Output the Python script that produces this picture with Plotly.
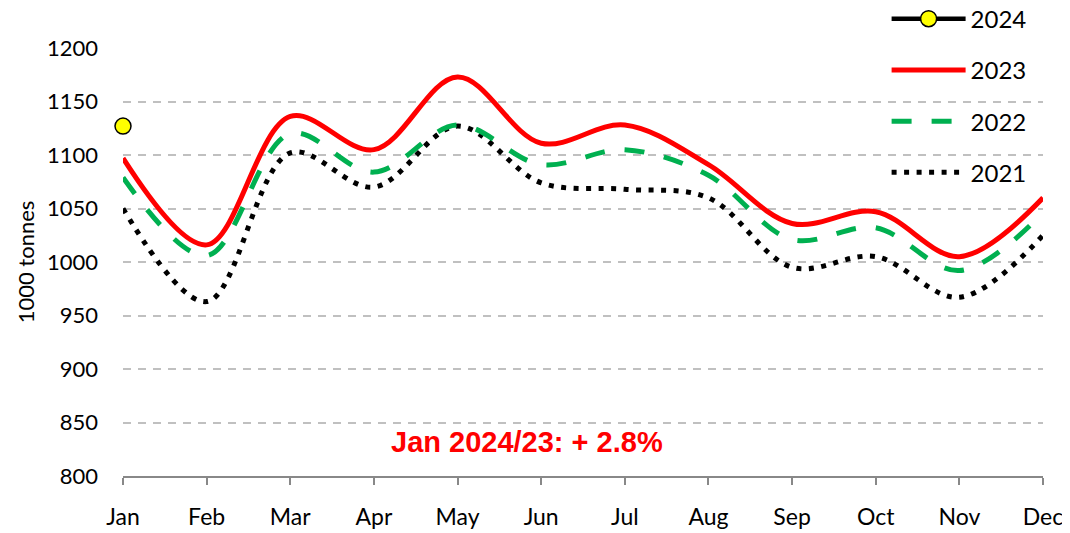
import plotly.graph_objects as go

months = ["Jan", "Feb", "Mar", "Apr", "May", "Jun", "Jul", "Aug", "Sep", "Oct", "Nov", "Dec"]
y2021 = [1050, 963, 1102, 1070, 1127, 1074, 1068, 1060, 995, 1005, 967, 1025]
y2022 = [1079, 1006, 1120, 1084, 1128, 1091, 1105, 1081, 1021, 1032, 992, 1046]
y2023 = [1097, 1016, 1136, 1105, 1173, 1111, 1128, 1091, 1036, 1047, 1005, 1060]
y2024 = [1127]
annotation_text = "Jan 2024/23: + 2.8%"

xi = list(range(len(months)))

fig = go.Figure()
fig.add_trace(go.Scatter(x=xi, y=y2021, name="2021", mode="lines", legendrank=4,
                         line=dict(color="black", width=5, dash="5px,7.5px", shape="spline", smoothing=1),
                         legendgroup="a"))
fig.add_trace(go.Scatter(x=xi, y=y2022, name="2022", mode="lines", legendrank=3,
                         line=dict(color="#00b050", width=5, dash="20px,20px", shape="spline", smoothing=1),
                         legendgroup="b"))
fig.add_trace(go.Scatter(x=xi, y=y2023, name="2023", mode="lines", legendrank=2,
                         line=dict(color="#ff0000", width=5, shape="spline", smoothing=1),
                         legendgroup="c"))
fig.add_trace(go.Scatter(x=xi[:len(y2024)], y=y2024, name="2024", mode="lines+markers", legendrank=1,
                         line=dict(color="black", width=4.5), cliponaxis=False,
                         marker=dict(size=16, color="#ffff00", line=dict(color="black", width=1.5)),
                         legendgroup="d"))

fig.add_annotation(x=4.83, y=832, xref="x", yref="y", text=annotation_text, showarrow=False,
                   xanchor="center", yanchor="middle",
                   font=dict(family="Liberation Sans, Arial", size=29, color="#ff0000", weight="bold"))

fig.update_layout(
    width=1062, height=525,
    margin=dict(l=115, r=27, t=40, b=57, autoexpand=False),
    plot_bgcolor="white", paper_bgcolor="white",
    font=dict(family="Lato, Carlito, Calibri, sans-serif", color="black", size=22),
    showlegend=True,
    legend=dict(x=0.83, y=1.12, xanchor="left", yanchor="top", traceorder="grouped",
                tracegroupgap=17, itemwidth=74, font=dict(size=24), bgcolor="rgba(0,0,0,0)"),
    xaxis=dict(range=[0, 11], tickvals=xi, ticktext=months, showgrid=False, zeroline=False,
               showline=True, linecolor="#888888", linewidth=2, ticks="outside", ticklen=7,
               tickcolor="#888888", tickwidth=2, ticklabelstandoff=12, tickfont=dict(size=23)),
    yaxis=dict(range=[800, 1200], dtick=50, showgrid=True, gridcolor="#c0c0c0", gridwidth=1.5,
               griddash="8px,7px", zeroline=False, showline=False, ticks="", ticklabelstandoff=24,
               tickfont=dict(size=22),
               title=dict(text="1000 tonnes", font=dict(size=22), standoff=6)),
)

fig.write_html("out.html")
